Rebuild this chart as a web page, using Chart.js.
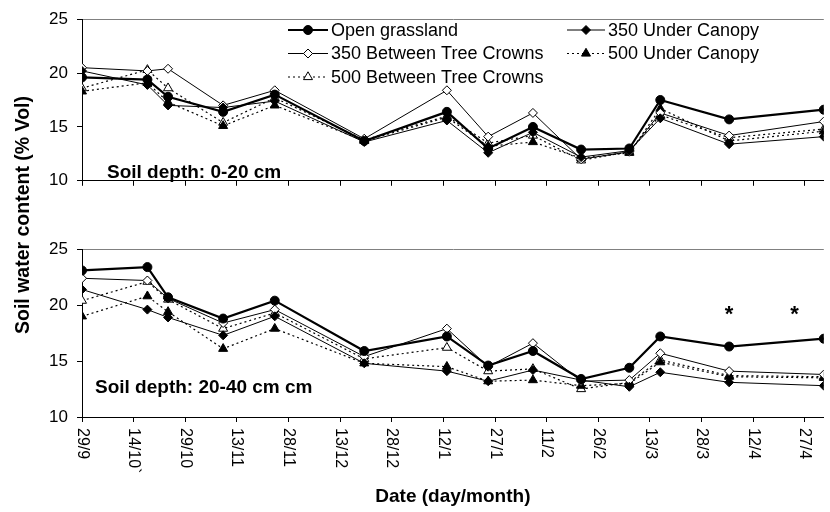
<!DOCTYPE html>
<html><head><meta charset="utf-8">
<script src="https://cdn.jsdelivr.net/npm/chart.js@4.4.0/dist/chart.umd.min.js"></script>
<style>
html,body{margin:0;padding:0;background:#fff;}
#wrap{position:relative;width:830px;height:512px;overflow:hidden;font-family:"Liberation Sans",Arial,sans-serif;}
#c1{position:absolute;left:0;top:0;}
#c2{position:absolute;left:0;top:230px;}
#ytitle{position:absolute;left:22px;top:215px;width:320px;height:24px;margin-left:-160px;margin-top:-12px;transform:rotate(-90deg);text-align:center;font-weight:bold;font-size:19.5px;line-height:24px;white-space:nowrap;}
</style></head>
<body><div id="wrap">
<canvas id="c1" width="830" height="200"></canvas>
<canvas id="c2" width="830" height="282"></canvas>
<div id="ytitle">Soil water content (% Vol)</div>
</div>
<script>
// ---- data ----
const sampleDays = [0, 19, 25, 41, 56, 82, 106, 118, 131, 145, 159, 168, 188, 215.5]; // days after 29/9
const tickLabels = ["29/9","14/10`","29/10","13/11","28/11","13/12","28/12","12/1","27/1","11/2","26/2","13/3","28/3","12/4","27/4"];
const seriesNames = ["Open grassland","350 Under Canopy","350 Between Tree Crowns","500 Under Canopy","500 Between Tree Crowns"];

// Soil depth 0-20 cm
const open_0_20   = [19.6, 19.4, 17.8, 16.4, 18.0, 13.7, 16.4, 13.0, 15.0, 12.9, 13.0, 17.5, 15.7, 16.6];
const uc350_0_20  = [20.2, 18.9, 17.0, 16.8, 17.4, 13.6, 15.6, 12.6, 14.5, 12.2, 12.8, 15.8, 13.4, 14.1];
const btc350_0_20 = [20.5, 20.2, 20.4, 17.0, 18.4, 13.9, 18.4, 14.1, 16.3, 12.0, 12.7, 16.3, 14.2, 15.5];
const uc500_0_20  = [18.3, 19.1, 17.3, 15.1, 17.0, 13.7, 15.9, 13.2, 13.6, 12.1, 12.6, 16.7, 13.7, 14.6];
const btc500_0_20 = [18.6, 20.3, 18.6, 15.4, 17.7, 13.8, 16.0, 13.5, 14.2, 11.9, 12.7, 16.1, 14.0, 14.8];

// Soil depth 20-40 cm
const open_20_40   = [23.1, 23.4, 20.7, 18.8, 20.4, 15.9, 17.2, 14.6, 15.9, 13.4, 14.4, 17.2, 16.3, 17.0];
const uc350_20_40  = [21.4, 19.6, 18.9, 17.3, 19.0, 14.8, 14.1, 13.2, 14.2, 13.3, 12.7, 14.0, 13.1, 12.8];
const btc350_20_40 = [22.4, 22.2, 20.6, 18.4, 19.6, 15.4, 17.9, 14.5, 16.6, 13.2, 13.3, 15.7, 14.1, 13.8];
const uc500_20_40  = [19.0, 20.8, 19.4, 16.1, 17.9, 14.8, 14.5, 13.2, 13.3, 12.8, 13.0, 14.9, 13.6, 13.5];
const btc500_20_40 = [20.4, 22.1, 20.5, 17.9, 19.3, 15.2, 16.2, 14.1, 14.3, 12.5, 13.1, 15.1, 13.7, 13.6];

const asteriskDays = [188, 207];
const asteriskLevel = 19.2;

// ---- styles ----
const FONT = '"Liberation Sans", Arial, Helvetica, sans-serif';
Chart.defaults.font.family = FONT;
Chart.defaults.color = '#000';
const styles = [
  {bw:2.2, dash:[],    ps:'circle',   r:4.5, fill:'#000'},
  {bw:1,   dash:[],    ps:'rectRot',  r:4.5, fill:'#000'},
  {bw:1,   dash:[],    ps:'rectRot',  r:4.5, fill:'#fff'},
  {bw:1.2, dash:[2,3], ps:'triangle', r:5.2, fill:'#000'},
  {bw:1.2, dash:[2,3], ps:'triangle', r:5.2, fill:'#fff'}
];

function makeDatasets(seriesList){
  return seriesList.map((vals, k) => ({
    label: seriesNames[k],
    data: vals.map((v, i) => ({x: sampleDays[i], y: v})),
    borderColor: '#000',
    borderWidth: styles[k].bw,
    borderDash: styles[k].dash,
    pointStyle: styles[k].ps,
    pointRadius: styles[k].r,
    pointBackgroundColor: styles[k].fill,
    pointBorderColor: '#000',
    pointBorderWidth: 1,
    tension: 0,
    fill: false
  }));
}

function makeOptions(xHeight){
  return {
    responsive:false, animation:false,
    layout:{padding:{top:15,left:0,right:0,bottom:0}},
    plugins:{legend:{display:false}, tooltip:{enabled:false}},
    scales:{
      x:{type:'linear', min:0, max:sampleDays[sampleDays.length-1],
         afterFit:s=>{s.height=xHeight;},
         ticks:{display:false, stepSize:15, includeBounds:false},
         grid:{drawOnChartArea:false, tickLength:5, tickColor:'#000', lineWidth:1},
         border:{color:'#000', width:1}},
      y:{min:10, max:25, afterFit:s=>{s.width=82;},
         ticks:{stepSize:5, color:'#000', padding:9, font:{size:17}},
         grid:{color:c=>(c.tick && c.tick.value===25)?'#808080':'rgba(0,0,0,0)',
               tickColor:'#000', tickLength:5, drawOnChartArea:true},
         border:{color:'#000', width:1}}
    }
  };
}

const legendPlugin = {
  id:'customLegend',
  afterDraw(chart){
    const ctx = chart.ctx;
    const colX = [288, 567];
    const rowY = [30, 53.5, 77];
    const sampleLen = [40, 38];
    ctx.save();
    chart.data.datasets.forEach((ds, k) => {
      const col = k % 2, row = Math.floor(k / 2);
      const x0 = colX[col], y0 = rowY[row], L = sampleLen[col];
      ctx.strokeStyle = '#000';
      ctx.lineWidth = ds.borderWidth;
      ctx.setLineDash(ds.borderDash);
      ctx.beginPath(); ctx.moveTo(x0, y0); ctx.lineTo(x0 + L, y0); ctx.stroke();
      ctx.setLineDash([]);
      ctx.fillStyle = ds.pointBackgroundColor;
      ctx.lineWidth = 1;
      Chart.helpers.drawPoint(ctx, {pointStyle: ds.pointStyle, radius: ds.pointRadius, rotation:0, borderWidth:1}, x0 + L/2, y0);
      ctx.fillStyle = '#000';
      ctx.font = '18px ' + FONT;
      ctx.textAlign = 'left'; ctx.textBaseline = 'middle';
      ctx.fillText(ds.label, x0 + L + 3, y0 + 1);
    });
    ctx.font = 'bold 19px ' + FONT;
    ctx.textBaseline = 'alphabetic';
    ctx.fillText('Soil depth: 0-20 cm', 107, 178);
    ctx.restore();
  }
};

const bottomPlugin = {
  id:'bottomDecor',
  afterDraw(chart){
    const ctx = chart.ctx, xs = chart.scales.x, ys = chart.scales.y, area = chart.chartArea;
    ctx.save();
    ctx.fillStyle = '#000';
    ctx.font = '16px ' + FONT;
    ctx.textAlign = 'left'; ctx.textBaseline = 'middle';
    xs.ticks.forEach(t => {
      const px = xs.getPixelForValue(t.value);
      ctx.save();
      ctx.translate(px, area.bottom + 11);
      ctx.rotate(Math.PI / 2);
      ctx.fillText(tickLabels[Math.round(t.value / 15)], 0, 0);
      ctx.restore();
    });
    ctx.font = 'bold 19px ' + FONT;
    ctx.textAlign = 'center';
    ctx.fillText('Date (day/month)', (area.left + area.right) / 2, 267);
    ctx.textAlign = 'left'; ctx.textBaseline = 'alphabetic';
    ctx.fillText('Soil depth: 20-40 cm cm', 95, 162.5);
    ctx.font = 'bold 22px ' + FONT;
    ctx.textAlign = 'center';
    asteriskDays.forEach(d => {
      ctx.fillText('*', xs.getPixelForValue(d), ys.getPixelForValue(asteriskLevel) + 7);
    });
    ctx.restore();
  }
};

new Chart(document.getElementById('c1'), {
  type:'line',
  data:{datasets: makeDatasets([open_0_20, uc350_0_20, btc350_0_20, uc500_0_20, btc500_0_20])},
  options: makeOptions(10),
  plugins:[legendPlugin]
});

new Chart(document.getElementById('c2'), {
  type:'line',
  data:{datasets: makeDatasets([open_20_40, uc350_20_40, btc350_20_40, uc500_20_40, btc500_20_40])},
  options: makeOptions(95),
  plugins:[bottomPlugin]
});
</script>
</body></html>
